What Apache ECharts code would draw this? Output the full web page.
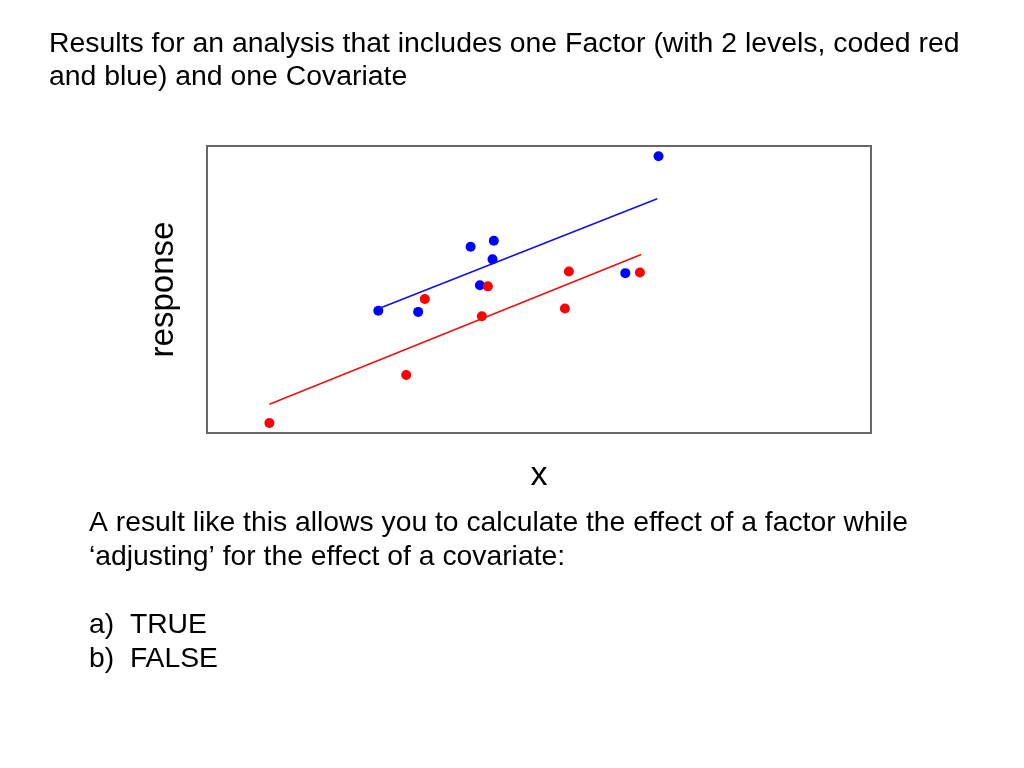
<!DOCTYPE html>
<html>
<head>
<meta charset="utf-8">
<script src="https://cdn.jsdelivr.net/npm/echarts@6/dist/echarts.min.js"></script>
<style>
html,body{margin:0;padding:0;background:#fff;}
#chart{width:1024px;height:768px;}
</style>
</head>
<body>
<div id="chart"></div>
<script>
// Data (arbitrary units, x and response scaled 0-100 across the plot frame)
const bluePoints = [[68.0,96.4],[39.7,64.9],[43.2,67.0],[43.0,60.5],[41.1,51.5],[25.8,42.6],[31.8,42.2],[63.0,55.7]];
const redPoints  = [[9.4,3.5],[30.0,20.2],[32.8,46.7],[42.3,51.1],[41.4,40.7],[54.5,56.3],[53.9,43.4],[65.2,55.9]];
const blueFit = [[25.8,43.3],[67.8,81.6]];
const redFit  = [[9.4,10.0],[65.4,62.2]];
const titleText = 'Results for an analysis that includes one Factor (with 2 levels, coded red\nand blue) and one Covariate';
const questionLines = [
  'A result like this allows you to calculate the effect of a factor while',
  '\u2018adjusting\u2019 for the effect of a covariate:',
  '',
  'a)  TRUE',
  'b)  FALSE'
];
const xName = 'x';
const yName = 'response';

const chart = echarts.init(document.getElementById('chart'));
const font = '"Liberation Sans", Arial, sans-serif';
chart.setOption({
  backgroundColor: '#fff',
  animation: false,
  title: {
    text: titleText,
    left: 49, top: 28, padding: 0,
    textStyle: {fontFamily: font, fontSize: 28.4, fontWeight: 'normal', color: '#000', lineHeight: 33}
  },
  grid: {left: 207, right: 153, top: 146, bottom: 335, show: true, borderColor: '#666', borderWidth: 2, backgroundColor: 'transparent'},
  xAxis: {
    type: 'value', min: 0, max: 100,
    name: xName, nameLocation: 'middle', nameGap: 26,
    nameTextStyle: {fontFamily: font, fontSize: 34, color: '#000'},
    axisLine: {show: false}, axisTick: {show: false}, axisLabel: {show: false}, splitLine: {show: false}
  },
  yAxis: {
    type: 'value', min: 0, max: 100,
    name: yName, nameLocation: 'middle', nameGap: 27,
    nameTextStyle: {fontFamily: font, fontSize: 33, color: '#000'},
    axisLine: {show: false}, axisTick: {show: false}, axisLabel: {show: false}, splitLine: {show: false}
  },
  graphic: [{
    type: 'text', left: 89, top: 506,
    style: {text: questionLines.join('\n'), fontFamily: font, fontSize: 28.3, lineHeight: 34, fill: '#000'}
  }],
  series: [
    {type: 'line', data: blueFit, symbol: 'none', lineStyle: {color: '#1010f0', width: 1.6}, clip: false},
    {type: 'line', data: redFit, symbol: 'none', lineStyle: {color: '#f01010', width: 1.6}, clip: false},
    {type: 'scatter', data: bluePoints, symbolSize: 10, itemStyle: {color: '#0000ff', opacity: 1}, clip: false},
    {type: 'scatter', data: redPoints, symbolSize: 10, itemStyle: {color: '#ff0000', opacity: 1}, clip: false}
  ]
});
</script>
</body>
</html>
